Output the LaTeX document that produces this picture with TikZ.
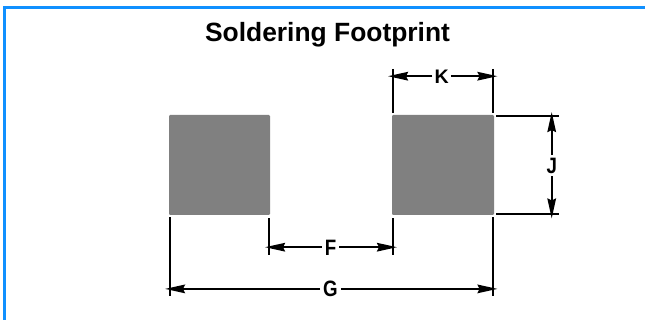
\documentclass[tikz,border=0pt]{standalone}
\usepackage{fontspec}
\setmainfont{Liberation Sans}
\newfontfamily\dimfont[FakeStretch=0.84]{Liberation Sans}
\usetikzlibrary{arrows.meta}
\definecolor{frameblue}{HTML}{1090FF}
\definecolor{padgrey}{HTML}{808080}
\tikzset{
  x=0.75pt,y=-0.75pt,
  framing/.style={draw=frameblue,line width=1.6pt},
  pad/.style={fill=padgrey,draw=none,rounded corners=0.8pt},
  extline/.style={draw=black,line width=1.5pt},
  dimline/.style={draw=black,line width=1.5pt,-{Stealth[length=15pt,width=6.4pt,inset=1.5pt]}},
  dimlabel/.style={inner sep=0pt,text height=10.5pt,text depth=0pt,align=center,font=\fontsize{14.7}{15}\selectfont\bfseries},
  dimlabeltall/.style={inner sep=0pt,text height=12pt,text depth=0pt,align=center,font=\dimfont\fontsize{16.7}{17}\selectfont\bfseries},
  titletext/.style={inner sep=0pt,anchor=base,font=\fontsize{19.8}{22}\selectfont\bfseries}
}
\begin{document}
\begin{tikzpicture}
\useasboundingbox (0,0) rectangle (645,320);
\fill[white] (0,0) rectangle (645,320);
% frame
\coordinate (fa) at (4.5,320);
\coordinate (fb) at (4.5,7.5);
\coordinate (fc) at (645,7.5);
\draw[framing,line join=miter] (fa) -- (fb) -- (fc);
% title
\node[titletext] (title) at (327.5,41.5) {Soldering Footprint};
% pads
\path[pad] (169,115) rectangle (270,215);
\path[pad] (392,115) rectangle (494,215);
% K
\coordinate (k1a) at (393,69); \coordinate (k1b) at (393,113);
\coordinate (k2a) at (493,69); \coordinate (k2b) at (493,113);
\draw[extline] (k1a) -- (k1b);
\draw[extline] (k2a) -- (k2b);
\node[dimlabel,minimum width=13.5pt] (K) at (441.7,76.2) {K};
\coordinate (ktl) at (388,76.2); \coordinate (ktr) at (497.5,76.2);
\draw[dimline] (K) -- (ktl);
\draw[dimline] (K) -- (ktr);
% J
\coordinate (j1a) at (496,116); \coordinate (j1b) at (559,116);
\coordinate (j2a) at (496,214); \coordinate (j2b) at (559,214);
\draw[extline] (j1a) -- (j1b);
\draw[extline] (j2a) -- (j2b);
\node[dimlabeltall,minimum height=15.5pt] (J) at (551.7,165.8) {J};
\coordinate (jtt) at (551.7,112); \coordinate (jtb) at (551.7,218.5);
\draw[dimline] (J) -- (jtt);
\draw[dimline] (J) -- (jtb);
% F
\coordinate (f1a) at (269,218); \coordinate (f1b) at (269,254.5);
\coordinate (f2a) at (393,218); \coordinate (f2b) at (393,254.5);
\draw[extline] (f1a) -- (f1b);
\draw[extline] (f2a) -- (f2b);
\node[dimlabeltall,minimum width=12.8pt] (F) at (330.5,247.2) {F};
\coordinate (ftl) at (265,247.2); \coordinate (ftr) at (397,247.2);
\draw[dimline] (F) -- (ftl);
\draw[dimline] (F) -- (ftr);
% G
\coordinate (g1a) at (170,217); \coordinate (g1b) at (170,295.5);
\coordinate (g2a) at (493,217); \coordinate (g2b) at (493,295.5);
\draw[extline] (g1a) -- (g1b);
\draw[extline] (g2a) -- (g2b);
\node[dimlabeltall,minimum width=15pt] (G) at (330.5,288.9) {G};
\coordinate (gtl) at (165,288.9); \coordinate (gtr) at (497.5,288.9);
\draw[dimline] (G) -- (gtl);
\draw[dimline] (G) -- (gtr);
\end{tikzpicture}
\end{document}
